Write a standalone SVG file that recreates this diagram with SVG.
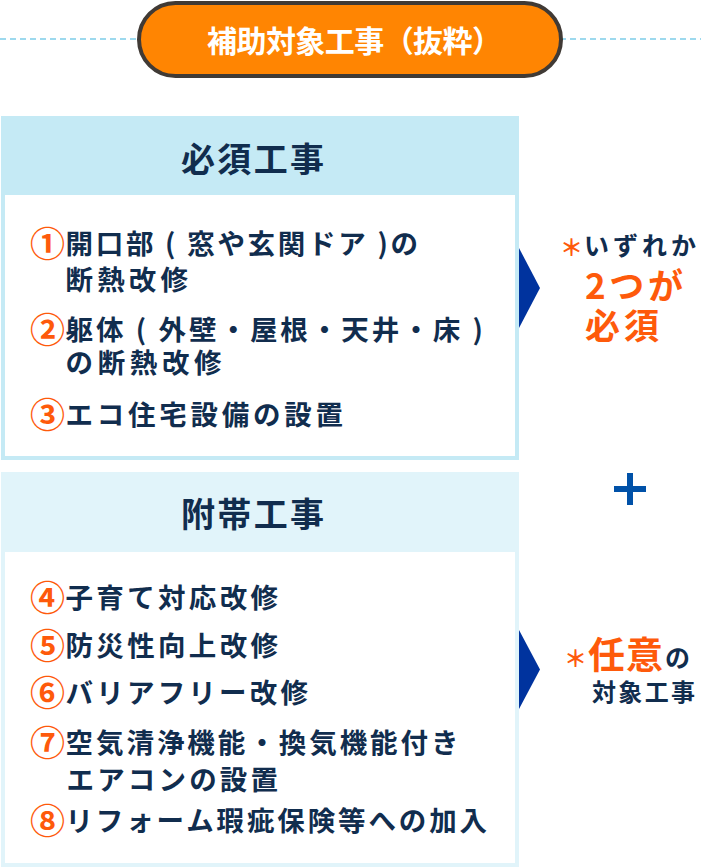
<svg xmlns="http://www.w3.org/2000/svg" width="701" height="868" viewBox="0 0 701 868">
<style>
text{font-family:"Noto Sans CJK JP","Noto Sans",sans-serif;font-weight:700}
.nv{fill:#112d4e}
.or{fill:#fe5a0b}
.it{font-size:27.5px}
.hd{font-size:34px}
.num{font-size:35px;fill:#fe5a0b;font-weight:700}
.tri{fill:#00339e}
</style>
<rect width="701" height="868" fill="#ffffff"/>
<g id="connectors">
<line x1="0" y1="39" x2="701" y2="39" stroke="#3cb4de" stroke-width="1.2" stroke-dasharray="6 4"/>
<polygon class="tri" points="519,248 540,288 519,328"/>
<polygon class="tri" points="519,630 540,669.5 519,709"/>
<g id="plus" fill="#0051a8"><rect x="614" y="486" width="32" height="6"/><rect x="627" y="473" width="6" height="32"/></g>
</g>
<g id="title">
<rect x="139" y="3" width="422" height="73" rx="36.5" fill="#ff8502" stroke="#403a35" stroke-width="4"/>
<text x="207" y="52" font-size="30" fill="#ffffff" textLength="295" lengthAdjust="spacing">補助対象工事（抜粋）</text>
</g>
<g id="required">
<rect x="3" y="118" width="514" height="340" fill="#ffffff" stroke="#c5eaf5" stroke-width="4"/>
<rect x="1" y="116" width="518" height="79" fill="#c5eaf5"/>
<text class="nv hd" x="181" y="172" textLength="143" lengthAdjust="spacing">必須工事</text>
<text class="num" x="30" y="257">①</text>
<text class="nv it" x="65.5" y="254" textLength="352.5" lengthAdjust="spacing">開口部 ( 窓や玄関ドア )の</text>
<text class="nv it" x="65.5" y="289.5" textLength="122.5" lengthAdjust="spacing">断熱改修</text>
<text class="num" x="30" y="342.5">②</text>
<text class="nv it" x="65.5" y="339.5" textLength="417.5" lengthAdjust="spacing">躯体 ( 外壁・屋根・天井・床 )</text>
<text class="nv it" x="65.5" y="373" textLength="156" lengthAdjust="spacing">の断熱改修</text>
<text class="num" x="30" y="427.5">③</text>
<text class="nv it" x="65.5" y="424.5" textLength="277.5" lengthAdjust="spacing">エコ住宅設備の設置</text>
</g>
<g id="required-note">
<text class="or" x="560" y="256" font-size="23">＊</text>
<text class="nv" x="584" y="255" font-size="25" textLength="112" lengthAdjust="spacing">いずれか</text>
<text class="or" x="585" y="299" font-size="35" textLength="98" lengthAdjust="spacing">2つが</text>
<text class="or" x="585" y="339" font-size="35" textLength="74" lengthAdjust="spacing">必須</text>
</g>
<g id="optional">
<rect x="3" y="474" width="514" height="391" fill="#ffffff" stroke="#e1f4fa" stroke-width="4"/>
<rect x="1" y="472" width="518" height="80" fill="#e1f4fa"/>
<text class="nv hd" x="181" y="527" textLength="143" lengthAdjust="spacing">附帯工事</text>
<text class="num" x="30" y="611">④</text>
<text class="nv it" x="65.5" y="608" textLength="212.5" lengthAdjust="spacing">子育て対応改修</text>
<text class="num" x="30" y="659">⑤</text>
<text class="nv it" x="65.5" y="656" textLength="212.5" lengthAdjust="spacing">防災性向上改修</text>
<text class="num" x="30" y="706">⑥</text>
<text class="nv it" x="65.5" y="703" textLength="242.5" lengthAdjust="spacing">バリアフリー改修</text>
<text class="num" x="30" y="756">⑦</text>
<text class="nv it" x="65.5" y="753" textLength="393" lengthAdjust="spacing">空気清浄機能・換気機能付き</text>
<text class="nv it" x="66.5" y="789.5" textLength="211.5" lengthAdjust="spacing">エアコンの設置</text>
<text class="num" x="30" y="834">⑧</text>
<text class="nv it" x="65.5" y="831" textLength="421.5" lengthAdjust="spacing">リフォーム瑕疵保険等への加入</text>
</g>
<g id="optional-note">
<text class="or" x="564" y="667" font-size="23">＊</text>
<text class="or" x="588" y="669" font-size="37" textLength="75" lengthAdjust="spacing">任意</text>
<text class="nv" x="665" y="667" font-size="25">の</text>
<text class="nv" x="592" y="701" font-size="24" textLength="103" lengthAdjust="spacing">対象工事</text>
</g>
</svg>
